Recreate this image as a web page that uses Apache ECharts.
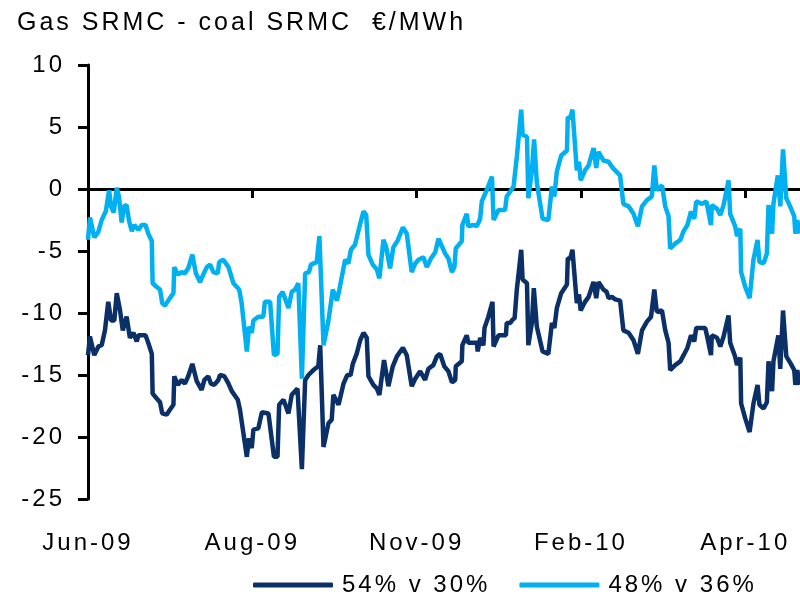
<!DOCTYPE html>
<html>
<head>
<meta charset="utf-8">
<script src="https://cdn.jsdelivr.net/npm/echarts@6/dist/echarts.min.js"></script>
<style>
  html, body { margin: 0; padding: 0; background: #fff; }
  #chart { width: 800px; height: 603px; }
</style>
</head>
<body>
<div id="chart"></div>
<script>
// x = trading days since start of Jun-09, labels every 60 days
const tickLabels = ["Jun-09", "Aug-09", "Nov-09", "Feb-10", "Apr-10"];
const tickStep = 60;
const seriesNames = ["54% v 30%", "48% v 36%"];

// 54% v 30%
const dark = [
  [0, -13.4], [0.7, -11.9], [2.3, -13.4], [3.8, -12.7], [5, -12.6], [6.2, -11.4], [7.4, -9.1],
  [8.4, -10.6], [9.6, -10.6], [10.5, -8.4], [11.7, -9.8], [12.7, -11.4], [14.1, -10.3], [15.3, -12],
  [16.6, -11.6], [17.8, -12.3], [18.4, -11.8], [21, -11.8], [22, -12.4], [23.3, -13.3], [23.6, -16.5],
  [25.1, -16.9], [26.3, -17.2], [27.1, -18.1], [28.7, -18.2], [29.9, -17.8], [31.2, -17.4], [31.5, -15.1],
  [32.8, -15.8], [34.2, -15.4], [35.4, -15.7], [36.6, -15.1], [38.1, -14.1], [39.7, -15.5], [41.5, -16.2],
  [42.5, -15.4], [43.9, -15.1], [44.9, -15.7], [46.1, -15.8], [47.6, -15.4], [48.2, -15], [49.8, -15.1],
  [51.3, -15.7], [52.5, -16.3], [54.7, -17], [55.5, -17.8], [58, -21.6], [58.8, -20.1], [59.8, -20.9],
  [60.4, -19.4], [62.2, -19.3], [63.5, -18], [65.9, -18.1], [67.9, -21.6], [69.2, -21.6], [69.8, -17.4],
  [71.4, -17], [73.2, -18.1], [74.4, -16.6], [76.5, -16.1], [78.1, -22.6], [79.3, -15.4], [80.5, -15],
  [82.3, -14.6], [84.1, -14.3], [84.8, -12.6], [86, -20.8], [87.8, -18.9], [89, -18.6], [89.6, -16.6],
  [91.5, -17.4], [93.3, -15.7], [94.7, -15], [95.9, -15], [96.7, -14.1], [98.1, -13.3], [99.4, -12.2],
  [100.6, -11.6], [101.8, -12], [102.4, -15.1], [104.2, -15.8], [105.5, -16.1], [106.4, -16.6], [108.1, -13.8],
  [109.7, -15.9], [111.3, -14.3], [112.8, -13.5], [115, -12.8], [116.4, -13.4], [118.2, -15.9], [119.5, -15.3],
  [121.3, -14.7], [123.1, -15.4], [124.3, -14.5], [126.1, -14.2], [127.4, -13.5], [128.6, -13.3], [130.1, -14.3],
  [131.6, -14.7], [132.9, -15.6], [134.1, -15.4], [134.3, -14.3], [136.5, -13.9], [136.7, -12.6], [138.3, -11.8],
  [138.9, -12.4], [142, -12.4], [142.3, -13.1], [143.2, -12], [144.4, -12.6], [144.8, -11.2], [146.2, -10.3],
  [147.7, -9.1], [148.1, -12.7], [149.9, -11.8], [152.6, -11.8], [152.9, -10.8], [154.2, -10.8], [154.8, -10.6],
  [155.8, -10.4], [156.6, -8.1], [158.2, -4.9], [158.7, -7.3], [160.3, -7.6], [160.8, -12.6], [162.1, -10.8],
  [162.8, -8], [163.9, -11.1], [166, -13.1], [168.1, -13.3], [169.4, -10.8], [170.3, -11.2], [171.2, -9.6],
  [172.8, -8.4], [174.9, -7.7], [175.2, -5.6], [176.1, -5.6], [176.9, -4.9], [178.5, -9.2], [179.3, -8.5],
  [179.9, -9.8], [181.5, -9.1], [182.8, -8.7], [184.6, -7.5], [185.6, -8.8], [186.4, -7.5], [188.2, -8.1],
  [189.4, -8.3], [190.1, -8.8], [191.3, -8.7], [192.5, -8.9], [194.3, -9], [195.5, -11.4], [197.4, -11.6],
  [199.2, -12.2], [200.8, -13.3], [202.3, -11.4], [204.1, -10.7], [205.6, -10.3], [206.8, -8.1], [207.7, -9.9],
  [209.6, -9.8], [210.8, -11.4], [212, -12.4], [212.6, -14.6], [214.4, -14.2], [216.3, -13.9], [217.5, -13.4],
  [218.9, -12.8], [220.2, -11.8], [221.4, -12.3], [222.1, -11.2], [225.4, -11.2], [226, -11.8], [227.5, -13.4],
  [227.8, -11.8], [229.7, -12], [230.9, -12.7], [232.1, -11.9], [233.9, -10.2], [234.5, -12.4], [236.3, -13.5],
  [237, -14.2], [238.2, -13.6], [238.5, -17.3], [240, -18.5], [241.6, -19.6], [243, -17.3], [244.5, -15.8],
  [245.2, -17.4], [246.7, -17.7], [247.9, -17.2], [248.5, -13.9], [249.8, -16.3], [250.3, -13.9], [252.1, -11.8],
  [252.8, -14.5], [253.8, -9.8], [255, -13.5], [256.4, -14], [257.9, -14.6], [258.3, -15.8], [259, -14.6],
  [259.8, -15.8]
];

// 48% v 36%
const light = [
  [0, -4.1], [0.7, -2.3], [2.3, -3.9], [3.7, -3.5], [5, -2.5], [6.5, -1.8], [7.7, -0.1],
  [8.4, -1.4], [9.4, -1.9], [10.5, 0.1], [11.3, -0.6], [12.3, -2.7], [13.2, -1.4], [14.1, -1.3],
  [15, -2.6], [16, -3.4], [16.9, -2.9], [18.4, -3.3], [19.6, -2.9], [21, -2.9], [22, -3.6],
  [23.3, -4.2], [23.6, -7.6], [25.1, -7.9], [26.3, -8.1], [27.1, -9.2], [28.1, -9.4], [29.9, -8.8],
  [31.2, -8.4], [31.5, -6.3], [32.8, -6.9], [34.2, -6.7], [35.4, -6.8], [36.6, -6.4], [38.1, -5.3],
  [39.4, -6.8], [40.9, -7.5], [42.1, -6.9], [43.4, -6.3], [44.6, -6.1], [45.8, -6.7], [47.4, -6.8],
  [47.9, -5.9], [49.4, -5.7], [51.3, -6.3], [53.1, -7.6], [55.2, -8.1], [56.1, -9.2], [58, -13.1],
  [58.8, -11.1], [59.8, -11.6], [60.4, -10.6], [62.2, -10.3], [64, -10.3], [64.6, -9.1], [66.5, -9.1],
  [67.9, -13.4], [69.2, -13.3], [69.8, -8.7], [71.1, -8.3], [73.2, -9.6], [74.4, -8.3], [75.6, -8.1],
  [76.8, -7.6], [78.1, -15.3], [79.3, -6.8], [80.7, -6.7], [81.4, -6.1], [83.5, -5.9], [84.5, -3.8],
  [86, -12.6], [87.8, -10.6], [89.4, -8.1], [90.9, -9], [91.8, -8.1], [93.9, -5.7], [95.1, -6],
  [96, -4.9], [97.5, -4.5], [99.4, -2.8], [100.6, -1.8], [101.6, -2.1], [102.4, -5.3], [104, -6.1],
  [105.5, -6.5], [106.4, -7.2], [107.9, -4.1], [108.9, -4.7], [110.3, -6.4], [111.5, -4.7], [113, -4.2],
  [115, -3.1], [116.4, -3.6], [118.2, -6.7], [119.5, -6], [120.7, -5.7], [122.5, -5.5], [123.7, -6.3],
  [125.2, -5.6], [126.8, -5.1], [128, -4], [130.4, -5.2], [131.6, -5.6], [132.9, -6.7], [133.8, -6.3],
  [134.3, -4.8], [136.5, -4.2], [136.7, -2.9], [138.3, -2], [138.9, -3], [140.7, -2.9], [142, -3],
  [143.2, -2.4], [143.8, -1], [145.6, -0.1], [147.5, 1], [148.1, -2.5], [149.9, -1.7], [152.3, -1.7],
  [152.9, -0.6], [154.2, -0.2], [155.4, 0.2], [156.6, 2.6], [158.2, 6.4], [158.7, 4.4], [160.3, 4.2],
  [160.8, -0.75], [162.1, 1.5], [162.9, 4], [163.9, 0.5], [166, -2.4], [168.1, -2.5], [169.4, 0.2],
  [170.3, -0.6], [171.2, 1.4], [172.8, 2.7], [174.9, 3.1], [175.2, 5.8], [176.1, 5.7], [176.9, 6.4],
  [178.5, 1.5], [179.3, 2.2], [179.9, 0.7], [181.5, 1.5], [182.8, 1.9], [184.6, 3.3], [185.6, 1.7],
  [186.4, 3], [188.2, 2.3], [190.1, 2.2], [191.3, 1.8], [192.5, 1.5], [194.3, 1.1], [195.5, -1.2],
  [197.4, -1.4], [199.2, -2], [200.8, -3], [202.3, -1.4], [204.1, -0.9], [205.9, -0.6], [206.8, 1.9],
  [207.7, -0.1], [209.6, 0.3], [210.8, -1.4], [212, -2.2], [212.6, -4.8], [214.4, -4.4], [216.3, -4.1],
  [217.5, -3.4], [218.9, -2.9], [220.2, -1.8], [221.4, -2.4], [222.1, -1], [224.2, -1.2], [225.8, -1],
  [227.5, -2.9], [227.8, -1.3], [229.7, -1.6], [230.9, -2.1], [232.1, -1.3], [233.9, 0.7], [234.5, -2],
  [236.3, -3], [237, -3.8], [238.2, -3.2], [238.5, -6.7], [240, -7.9], [241.6, -8.8], [243, -5.7],
  [244.5, -4.1], [245.2, -5.9], [246.7, -6], [247.9, -5.2], [248.5, -1.3], [249.8, -3.6], [250.3, -1.2],
  [251.9, 1.1], [252.8, -1.4], [253.8, 3.2], [255, -0.75], [256.4, -1.4], [257.9, -2.2], [258.3, -3.6],
  [259, -2.5], [259.8, -3.6]
];

const font = "'Liberation Sans', Arial, sans-serif";
const tickValues = tickLabels.map((t, i) => i * tickStep);

function dateLabel(v) {
  return tickLabels[Math.round(v / tickStep)] || "";
}

const myChart = echarts.init(document.getElementById("chart"));

const options = {
  animation: false,
  color: ["#0b3068", "#00b0f0"],
  title: {
    text: "Gas SRMC - coal SRMC  €/MWh",
    left: 12,
    top: 6,
    textStyle: { fontFamily: font, fontSize: 25, fontWeight: "normal", color: "#000" }
  },
  legend: {
    data: seriesNames,
    left: 248,
    top: 568,
    itemWidth: 80,
    itemHeight: 5,
    itemGap: 56,
    icon: "roundRect",
    textStyle: { fontFamily: font, fontSize: 24, color: "#000", padding: [0, 0, 0, 4] }
  },
  grid: {
    left: 88,
    right: 0,
    top: 65,
    bottom: 104,
    containLabel: false,
    outerBoundsMode: "none"
  },
  xAxis: [
    {
      // zero line with its ticks
      type: "value",
      min: 0,
      max: 260,
      interval: tickStep,
      axisLine: { onZero: true, lineStyle: { color: "#000", width: 3 } },
      axisTick: { show: true, customValues: tickValues, length: 9, lineStyle: { color: "#000", width: 3 } },
      axisLabel: { customValues: tickValues, color: "rgba(0,0,0,0)", fontSize: 10, formatter: dateLabel },
      splitLine: { show: false }
    },
    {
      // date labels along the bottom
      type: "value",
      position: "bottom",
      min: 0,
      max: 260,
      interval: tickStep,
      axisLine: { show: false, onZero: false },
      axisTick: { show: false },
      axisLabel: {
        customValues: tickValues,
        margin: 32,
        fontFamily: font,
        fontSize: 24,
        color: "#000",
        formatter: dateLabel
      },
      splitLine: { show: false }
    }
  ],
  yAxis: {
    type: "value",
    min: -25,
    max: 10,
    interval: 5,
    axisLine: { show: true, onZero: false, lineStyle: { color: "#000", width: 3 } },
    axisTick: { show: true, length: 10, lineStyle: { color: "#000", width: 3 } },
    axisLabel: { margin: 23, fontFamily: font, fontSize: 24, color: "#000" },
    splitLine: { show: false }
  },
  series: [
    {
      name: seriesNames[0],
      type: "line",
      xAxisIndex: 0,
      data: dark,
      symbol: "none",
      lineStyle: { width: 4.5 },
      z: 3
    },
    {
      name: seriesNames[1],
      type: "line",
      xAxisIndex: 0,
      data: light,
      symbol: "none",
      lineStyle: { width: 4.5 },
      z: 3
    }
  ]
};

myChart.setOption(options);

// the source chart sets its text with wide letter spacing
document.querySelectorAll("#chart canvas").forEach(function(c) {
  const ctx = c.getContext("2d");
  if ("letterSpacing" in ctx) ctx.letterSpacing = "3px";
});
myChart.setOption(options, true);
</script>
</body>
</html>
